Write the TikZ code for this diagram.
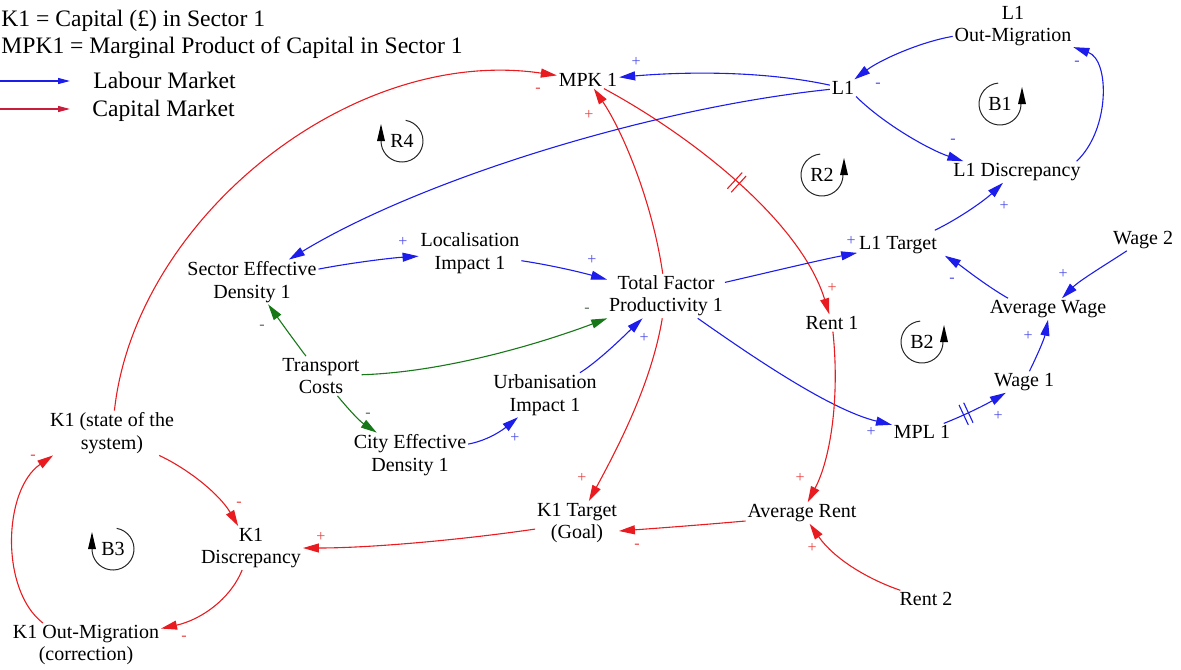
\documentclass[tikz,border=0pt]{standalone}
\usepackage{fontspec}
\setmainfont{Liberation Serif}
\usetikzlibrary{arrows.meta,decorations.markings}
\definecolor{lred}{RGB}{232,28,32}
\definecolor{lblue}{RGB}{28,28,235}
\definecolor{lgreen}{RGB}{22,120,22}
\definecolor{pred}{RGB}{232,70,70}
\definecolor{pblue}{RGB}{80,80,230}
\definecolor{pgreen}{RGB}{90,110,90}
\definecolor{legred}{RGB}{200,30,60}
\begin{document}
\begin{tikzpicture}[x=0.5pt,y=-0.5pt,
  var/.style={font=\fontsize{10}{11.2}\selectfont, align=center, inner sep=1pt, outer sep=0pt},
  pol/.style={font=\fontsize{8}{8}\selectfont, inner sep=0pt},
  leg/.style={font=\fontsize{11.8}{13}\selectfont, inner sep=0pt},
  link/.style={line width=0.55pt, -{Triangle[length=8pt,width=4.5pt]}},
  rl/.style={link, lred},
  bl/.style={link, lblue},
  gl/.style={link, lgreen},
  delaymark/.style={postaction={decorate}, decoration={markings, mark=at position #1 with {\draw[-,line width=0.55pt] (-1.3pt,-5.5pt) -- (-1.3pt,5.5pt) (1.3pt,-5.5pt) -- (1.3pt,5.5pt);}}},
  looparc/.style={line width=0.5pt, draw=black!85},
  looplab/.style={font=\fontsize{10}{11}\selectfont, inner sep=0pt}
]
\useasboundingbox (0,0) rectangle (1181,669);

% legend
\node[leg, anchor=base west] (legK) at (1,26) {K1 = Capital (£) in Sector 1};
\node[leg, anchor=base west] (legM) at (1,53) {MPK1 = Marginal Product of Capital in Sector 1};
\coordinate (lb0) at (0,81); \coordinate (lb1) at (70,81);
\coordinate (lr0) at (0,109); \coordinate (lr1) at (70,109);
\draw[line width=0.6pt, lblue, -{Triangle[length=6pt,width=3pt]}] (lb0) -- (lb1);
\draw[line width=0.6pt, legred, -{Triangle[length=6pt,width=3pt]}] (lr0) -- (lr1);
\node[leg, anchor=base west] (legL) at (93,88) {Labour Market};
\node[leg, anchor=base west] (legC) at (92,116) {Capital Market};

% variables
\node[var] (MPK1) at (588,80) {MPK 1};
\node[var] (L1) at (843,88) {L1};
\node[var] (L1OM) at (1013,26) {L1\\Out-Migration};
\node[var] (L1D) at (1017,172) {L1 Discrepancy};
\node[var] (SED) at (252,282) {Sector Effective\\Density 1};
\node[var] (LOC) at (470,253) {Localisation\\Impact 1};
\node[var] (TFP) at (666,296) {Total Factor\\Productivity 1};
\node[var] (L1T) at (898,245) {L1 Target};
\node[var] (W2) at (1143,240) {Wage 2};
\node[var] (AW) at (1048,309) {Average Wage};
\node[var] (R1) at (832,323) {Rent 1};
\node[var] (W1) at (1024,382) {Wage 1};
\node[var] (MPL) at (922,432) {MPL 1};
\node[var] (TC) at (321,376) {Transport\\Costs};
\node[var] (URB) at (545,395) {Urbanisation\\Impact 1};
\node[var] (CED) at (410,455) {City Effective\\Density 1};
\node[var] (K1) at (112,433) {K1 (state of the\\system)};
\node[var] (K1D) at (251,548) {K1\\Discrepancy};
\node[var] (K1T) at (577,523) {K1 Target\\(Goal)};
\node[var] (AR) at (802,513) {Average Rent};
\node[var] (R2n) at (926,599) {Rent 2};
\node[var] (K1O) at (86,645) {K1 Out-Migration\\(correction)};

% loop symbols
\node[looplab] (lR4) at (402,141) {R4};
\draw[looparc] (lR4.center) ++(-80:21) arc[start angle=-80, end angle=180, radius=21];
\fill[black] (lR4.center) ++(-25,0) -- ++(4,-17) -- ++(4,17) -- cycle;
\node[looplab] (lB3) at (113,549) {B3};
\draw[looparc] (lB3.center) ++(-80:21) arc[start angle=-80, end angle=180, radius=21];
\fill[black] (lB3.center) ++(-25,0) -- ++(4,-17) -- ++(4,17) -- cycle;
\node[looplab] (lB1) at (1000,104) {B1};
\draw[looparc] (lB1.center) ++(-95:21) arc[start angle=-95, end angle=-360, radius=21];
\fill[black] (lB1.center) ++(18,0) -- ++(4,-17) -- ++(4,17) -- cycle;
\node[looplab] (lR2) at (822,175) {R2};
\draw[looparc] (lR2.center) ++(-95:21) arc[start angle=-95, end angle=-360, radius=21];
\fill[black] (lR2.center) ++(18,0) -- ++(4,-17) -- ++(4,17) -- cycle;
\node[looplab] (lB2) at (922,342) {B2};
\draw[looparc] (lB2.center) ++(-95:21) arc[start angle=-95, end angle=-360, radius=21];
\fill[black] (lB2.center) ++(18,0) -- ++(4,-17) -- ++(4,17) -- cycle;

% links
\draw[rl] (K1) .. controls (135,220) and (350,45) .. (MPK1);
\draw[bl] (L1) .. controls (760,70) and (680,72) .. (MPK1);
\draw[rl] (TFP) .. controls (652,200) and (622,130) .. (MPK1);
\draw[rl, delaymark=0.5] (MPK1) .. controls (690,135) and (800,220) .. (R1);
\draw[bl] (L1) .. controls (650,108) and (420,180) .. (SED);
\draw[bl] (L1.south east) .. controls (885,125) and (930,150) .. ([xshift=6pt]L1D.north west);
\draw[bl] (L1OM) .. controls (920,42) and (880,60) .. (L1);
\draw[bl] ([xshift=-3pt]L1D.north east) .. controls (1110,130) and (1110,60) .. (L1OM);
\draw[bl] ([xshift=-2pt,yshift=2pt]L1T.north east) .. controls (960,218) and (985,200) .. ([xshift=-7pt]L1D.south);
\draw[bl] (TFP) .. controls (770,272) and (820,260) .. (L1T);
\draw[bl] ([xshift=-20pt]AW.north) .. controls (985,285) and (960,265) .. ([xshift=3pt]L1T.south east);
\draw[bl] (W2) .. controls (1110,262) and (1080,280) .. ([xshift=7pt]AW.north);
\draw[bl] (W1) .. controls (1035,360) and (1044,340) .. (AW.south);
\draw[bl, delaymark=0.35] (MPL) .. controls (965,415) and (985,405) .. (W1);
\draw[bl] (TFP) .. controls (750,355) and (830,410) .. (MPL);
\draw[rl] (R1) .. controls (840,400) and (830,460) .. (AR);
\draw[rl] (R2n) .. controls (870,580) and (835,560) .. (AR);
\draw[rl] ([yshift=-4pt]AR.west) .. controls (700,525) and (660,528) .. ([yshift=-4pt]K1T.east);
\draw[rl] (TFP) .. controls (652,380) and (622,440) .. (K1T);
\draw[rl] (K1T) .. controls (460,540) and (370,548) .. (K1D);
\draw[rl] (K1) .. controls (190,470) and (220,495) .. (K1D);
\draw[rl] (K1D) .. controls (230,600) and (200,620) .. (K1O);
\draw[rl] ([xshift=16pt]K1O.north west) .. controls (0,590) and (3,490) .. ([xshift=2.5pt]K1.south west);
\draw[bl] (SED) .. controls (350,263) and (390,258) .. (LOC);
\draw[bl] (LOC) .. controls (550,265) and (580,272) .. (TFP);
\draw[gl] (TC) .. controls (290,335) and (278,318) .. (SED);
\draw[gl] (TC) .. controls (450,372) and (550,340) .. (TFP);
\draw[gl] (TC) .. controls (345,405) and (358,420) .. (CED);
\draw[bl] (CED) .. controls (490,440) and (505,428) .. (URB);
\draw[bl] (URB) .. controls (600,360) and (625,335) .. (TFP);

% polarities
\node[pol, text=pred] (s1) at (538,90) {-};
\node[pol, text=pblue] (s2) at (636,62) {+};
\node[pol, text=pred] (s3) at (589,115) {+};
\node[pol, text=pred] (s4) at (832,288) {+};
\node[pol, text=pblue] (s5) at (953,141) {-};
\node[pol, text=pblue] (s6) at (878,85) {-};
\node[pol, text=pblue] (s7) at (1077,63) {-};
\node[pol, text=pblue] (s8) at (1004,206) {+};
\node[pol, text=pblue] (s9) at (851,241) {+};
\node[pol, text=pblue] (s10) at (952,280) {-};
\node[pol, text=pblue] (s11) at (1063,274) {+};
\node[pol, text=pblue] (s12) at (1028,336) {+};
\node[pol, text=pblue] (s13) at (998,416) {+};
\node[pol, text=pblue] (s14) at (871,432) {+};
\node[pol, text=pred] (s15) at (800,478) {+};
\node[pol, text=pred] (s16) at (812,548) {+};
\node[pol, text=pred] (s17) at (637,546) {-};
\node[pol, text=pred] (s18) at (582,478) {+};
\node[pol, text=pred] (s19) at (321,537) {+};
\node[pol, text=pred] (s20) at (239,504) {-};
\node[pol, text=pred] (s21) at (184,638) {-};
\node[pol, text=pred] (s22) at (33,457) {-};
\node[pol, text=pblue] (s23) at (403,242) {+};
\node[pol, text=pblue] (s24) at (592,260) {+};
\node[pol, text=pgreen] (s25) at (262,327) {-};
\node[pol, text=pgreen] (s26) at (587,310) {-};
\node[pol, text=pgreen] (s27) at (368,415) {-};
\node[pol, text=pblue] (s28) at (515,438) {+};
\node[pol, text=pblue] (s29) at (644,338) {+};
\end{tikzpicture}
\end{document}
